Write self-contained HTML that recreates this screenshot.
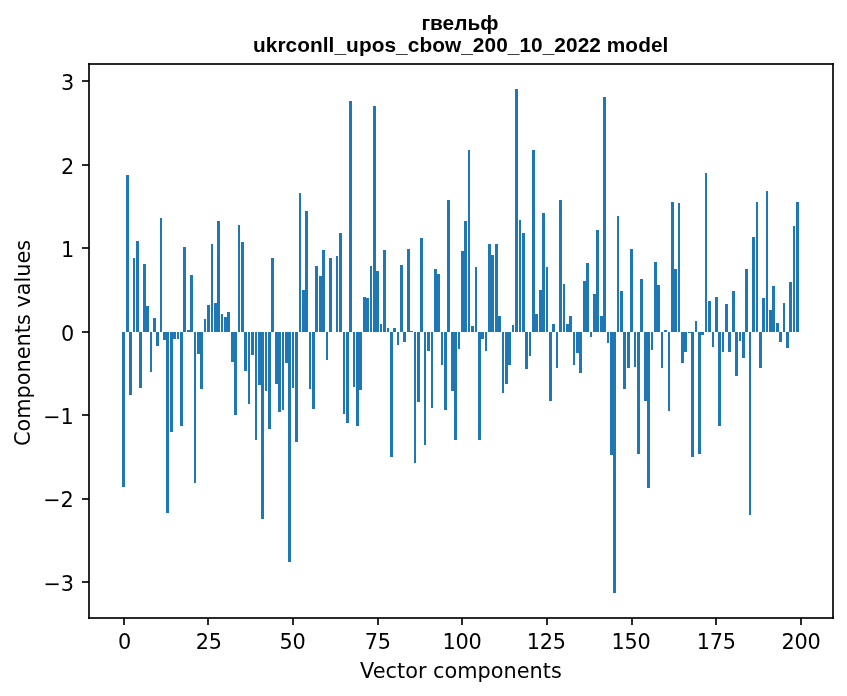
<!DOCTYPE html>
<html lang="uk">
<head>
<meta charset="utf-8">
<title>гвельф — ukrconll_upos_cbow_200_10_2022 model</title>
<style>
html,body{margin:0;padding:0;background:#fff;}
body{width:847px;height:696px;overflow:hidden;}
svg{display:block;}
.tk{font-family:"DejaVu Sans","Liberation Sans",sans-serif;font-size:20.83px;fill:#000;}
.ti{font-family:"Liberation Sans","DejaVu Sans",sans-serif;font-weight:bold;font-size:20.83px;fill:#000;}
.bars rect{fill:#1f77b4;}
.ax rect{fill:#000;fill-opacity:0.8353;}
</style>
</head>
<body>
<svg width="847" height="696" viewBox="0 0 847 696" role="img" aria-label="Bar chart of vector components">
<rect x="0" y="0" width="847" height="696" fill="#fff"/>
<g class="bars" shape-rendering="crispEdges">
<rect x="122" y="332" width="3" height="155"/>
<rect x="126" y="175" width="3" height="157"/>
<rect x="129" y="332" width="3" height="63"/>
<rect x="133" y="258" width="2" height="74"/>
<rect x="136" y="241" width="3" height="91"/>
<rect x="139" y="332" width="3" height="56"/>
<rect x="143" y="264" width="3" height="68"/>
<rect x="146" y="306" width="3" height="26"/>
<rect x="150" y="332" width="2" height="40"/>
<rect x="153" y="318" width="3" height="14"/>
<rect x="156" y="332" width="3" height="14"/>
<rect x="160" y="218" width="2" height="114"/>
<rect x="163" y="332" width="3" height="8"/>
<rect x="166" y="332" width="3" height="181"/>
<rect x="170" y="332" width="3" height="100"/>
<rect x="173" y="332" width="3" height="7"/>
<rect x="177" y="332" width="2" height="7"/>
<rect x="180" y="332" width="3" height="94"/>
<rect x="183" y="247" width="3" height="85"/>
<rect x="187" y="330" width="3" height="2"/>
<rect x="190" y="275" width="3" height="57"/>
<rect x="194" y="332" width="2" height="151"/>
<rect x="197" y="332" width="3" height="22"/>
<rect x="200" y="332" width="3" height="57"/>
<rect x="204" y="319" width="2" height="13"/>
<rect x="207" y="305" width="3" height="27"/>
<rect x="211" y="244" width="2" height="88"/>
<rect x="214" y="303" width="3" height="29"/>
<rect x="217" y="221" width="3" height="111"/>
<rect x="221" y="314" width="2" height="18"/>
<rect x="224" y="317" width="3" height="15"/>
<rect x="227" y="312" width="3" height="20"/>
<rect x="231" y="332" width="3" height="30"/>
<rect x="234" y="332" width="3" height="83"/>
<rect x="238" y="225" width="2" height="107"/>
<rect x="241" y="242" width="3" height="90"/>
<rect x="244" y="332" width="3" height="39"/>
<rect x="248" y="332" width="2" height="72"/>
<rect x="251" y="332" width="3" height="23"/>
<rect x="255" y="332" width="2" height="108"/>
<rect x="258" y="332" width="3" height="53"/>
<rect x="261" y="332" width="3" height="187"/>
<rect x="265" y="332" width="2" height="59"/>
<rect x="268" y="332" width="3" height="97"/>
<rect x="271" y="258" width="3" height="74"/>
<rect x="275" y="332" width="3" height="52"/>
<rect x="278" y="332" width="3" height="80"/>
<rect x="282" y="332" width="2" height="78"/>
<rect x="285" y="332" width="3" height="31"/>
<rect x="288" y="332" width="3" height="230"/>
<rect x="292" y="332" width="2" height="56"/>
<rect x="295" y="332" width="3" height="110"/>
<rect x="299" y="193" width="2" height="139"/>
<rect x="302" y="290" width="3" height="42"/>
<rect x="305" y="211" width="3" height="121"/>
<rect x="309" y="332" width="2" height="57"/>
<rect x="312" y="332" width="3" height="77"/>
<rect x="315" y="266" width="3" height="66"/>
<rect x="319" y="276" width="3" height="56"/>
<rect x="322" y="250" width="3" height="82"/>
<rect x="326" y="332" width="2" height="28"/>
<rect x="329" y="258" width="3" height="74"/>
<rect x="336" y="256" width="2" height="76"/>
<rect x="339" y="233" width="3" height="99"/>
<rect x="343" y="332" width="2" height="82"/>
<rect x="346" y="332" width="3" height="91"/>
<rect x="349" y="101" width="3" height="231"/>
<rect x="353" y="332" width="2" height="55"/>
<rect x="356" y="332" width="3" height="94"/>
<rect x="359" y="332" width="3" height="58"/>
<rect x="363" y="297" width="3" height="35"/>
<rect x="366" y="298" width="3" height="34"/>
<rect x="370" y="266" width="2" height="66"/>
<rect x="373" y="106" width="3" height="226"/>
<rect x="376" y="271" width="3" height="61"/>
<rect x="380" y="324" width="2" height="8"/>
<rect x="383" y="250" width="3" height="82"/>
<rect x="387" y="328" width="2" height="4"/>
<rect x="390" y="332" width="3" height="125"/>
<rect x="393" y="328" width="3" height="4"/>
<rect x="397" y="332" width="2" height="13"/>
<rect x="400" y="265" width="3" height="67"/>
<rect x="403" y="332" width="3" height="10"/>
<rect x="407" y="249" width="3" height="83"/>
<rect x="410" y="331" width="3" height="1"/>
<rect x="414" y="332" width="2" height="131"/>
<rect x="417" y="332" width="3" height="70"/>
<rect x="420" y="238" width="3" height="94"/>
<rect x="424" y="332" width="2" height="113"/>
<rect x="427" y="332" width="3" height="19"/>
<rect x="431" y="332" width="2" height="76"/>
<rect x="434" y="269" width="3" height="63"/>
<rect x="437" y="274" width="3" height="58"/>
<rect x="441" y="332" width="2" height="33"/>
<rect x="444" y="332" width="3" height="78"/>
<rect x="447" y="200" width="3" height="132"/>
<rect x="451" y="332" width="3" height="59"/>
<rect x="454" y="332" width="3" height="108"/>
<rect x="458" y="332" width="2" height="17"/>
<rect x="461" y="251" width="3" height="81"/>
<rect x="464" y="221" width="3" height="111"/>
<rect x="468" y="150" width="2" height="182"/>
<rect x="471" y="326" width="3" height="6"/>
<rect x="475" y="267" width="2" height="65"/>
<rect x="478" y="332" width="3" height="108"/>
<rect x="481" y="332" width="3" height="7"/>
<rect x="485" y="332" width="2" height="19"/>
<rect x="488" y="244" width="3" height="88"/>
<rect x="491" y="255" width="3" height="77"/>
<rect x="495" y="244" width="3" height="88"/>
<rect x="498" y="316" width="3" height="16"/>
<rect x="502" y="332" width="2" height="61"/>
<rect x="505" y="332" width="3" height="52"/>
<rect x="508" y="332" width="3" height="33"/>
<rect x="512" y="325" width="2" height="7"/>
<rect x="515" y="89" width="3" height="243"/>
<rect x="519" y="220" width="2" height="112"/>
<rect x="522" y="233" width="3" height="99"/>
<rect x="525" y="332" width="3" height="37"/>
<rect x="529" y="332" width="2" height="24"/>
<rect x="532" y="150" width="3" height="182"/>
<rect x="535" y="314" width="3" height="18"/>
<rect x="539" y="290" width="3" height="42"/>
<rect x="542" y="213" width="3" height="119"/>
<rect x="546" y="267" width="2" height="65"/>
<rect x="549" y="332" width="3" height="69"/>
<rect x="552" y="324" width="3" height="8"/>
<rect x="556" y="332" width="2" height="36"/>
<rect x="559" y="200" width="3" height="132"/>
<rect x="563" y="284" width="2" height="48"/>
<rect x="566" y="324" width="3" height="8"/>
<rect x="569" y="316" width="3" height="16"/>
<rect x="573" y="332" width="2" height="33"/>
<rect x="576" y="332" width="3" height="21"/>
<rect x="579" y="332" width="3" height="41"/>
<rect x="583" y="281" width="3" height="51"/>
<rect x="586" y="263" width="3" height="69"/>
<rect x="590" y="332" width="2" height="5"/>
<rect x="593" y="294" width="3" height="38"/>
<rect x="596" y="230" width="3" height="102"/>
<rect x="600" y="316" width="3" height="16"/>
<rect x="603" y="97" width="3" height="235"/>
<rect x="607" y="332" width="2" height="11"/>
<rect x="610" y="332" width="3" height="123"/>
<rect x="613" y="332" width="3" height="261"/>
<rect x="617" y="216" width="2" height="116"/>
<rect x="620" y="291" width="3" height="41"/>
<rect x="623" y="332" width="3" height="57"/>
<rect x="627" y="332" width="3" height="36"/>
<rect x="630" y="249" width="3" height="83"/>
<rect x="634" y="332" width="2" height="35"/>
<rect x="637" y="332" width="3" height="122"/>
<rect x="640" y="279" width="3" height="53"/>
<rect x="644" y="332" width="3" height="69"/>
<rect x="647" y="332" width="3" height="156"/>
<rect x="651" y="332" width="2" height="18"/>
<rect x="654" y="262" width="3" height="70"/>
<rect x="657" y="285" width="3" height="47"/>
<rect x="661" y="332" width="2" height="36"/>
<rect x="664" y="330" width="3" height="2"/>
<rect x="668" y="332" width="2" height="79"/>
<rect x="671" y="202" width="3" height="130"/>
<rect x="674" y="269" width="3" height="63"/>
<rect x="678" y="203" width="2" height="129"/>
<rect x="681" y="332" width="3" height="31"/>
<rect x="684" y="332" width="3" height="20"/>
<rect x="688" y="332" width="3" height="1"/>
<rect x="691" y="332" width="3" height="125"/>
<rect x="695" y="321" width="2" height="11"/>
<rect x="698" y="332" width="3" height="122"/>
<rect x="701" y="332" width="3" height="3"/>
<rect x="705" y="173" width="2" height="159"/>
<rect x="708" y="301" width="3" height="31"/>
<rect x="712" y="332" width="2" height="15"/>
<rect x="715" y="297" width="3" height="35"/>
<rect x="718" y="332" width="3" height="94"/>
<rect x="722" y="332" width="2" height="20"/>
<rect x="725" y="304" width="3" height="28"/>
<rect x="728" y="332" width="3" height="20"/>
<rect x="732" y="291" width="3" height="41"/>
<rect x="735" y="332" width="3" height="44"/>
<rect x="739" y="332" width="2" height="9"/>
<rect x="742" y="332" width="3" height="26"/>
<rect x="745" y="269" width="3" height="63"/>
<rect x="749" y="332" width="2" height="183"/>
<rect x="752" y="237" width="3" height="95"/>
<rect x="756" y="202" width="2" height="130"/>
<rect x="759" y="332" width="3" height="36"/>
<rect x="762" y="298" width="3" height="34"/>
<rect x="766" y="191" width="2" height="141"/>
<rect x="769" y="310" width="3" height="22"/>
<rect x="772" y="286" width="3" height="46"/>
<rect x="776" y="323" width="3" height="9"/>
<rect x="779" y="332" width="3" height="10"/>
<rect x="783" y="303" width="2" height="29"/>
<rect x="786" y="332" width="3" height="16"/>
<rect x="789" y="282" width="3" height="50"/>
<rect x="793" y="226" width="2" height="106"/>
<rect x="796" y="202" width="3" height="130"/>
</g>
<g class="ax" shape-rendering="crispEdges">
<rect x="123" y="618" width="2" height="7"/>
<rect x="207" y="618" width="2" height="7"/>
<rect x="292" y="618" width="2" height="7"/>
<rect x="377" y="618" width="2" height="7"/>
<rect x="461" y="618" width="2" height="7"/>
<rect x="546" y="618" width="2" height="7"/>
<rect x="631" y="618" width="2" height="7"/>
<rect x="715" y="618" width="2" height="7"/>
<rect x="800" y="618" width="2" height="7"/>
<rect x="82" y="80" width="7" height="2"/>
<rect x="82" y="164" width="7" height="2"/>
<rect x="82" y="247" width="7" height="2"/>
<rect x="82" y="331" width="7" height="2"/>
<rect x="82" y="414" width="7" height="2"/>
<rect x="82" y="498" width="7" height="2"/>
<rect x="82" y="581" width="7" height="2"/>
<rect x="88" y="63" width="2" height="556"/>
<rect x="832" y="63" width="2" height="556"/>
<rect x="88" y="617" width="746" height="2"/>
<rect x="88" y="63" width="746" height="2"/>
</g>
<g>
<text class="tk" x="124.59" y="648.60" text-anchor="middle" letter-spacing="-0.25px">0</text>
<text class="tk" x="208.72" y="648.60" text-anchor="middle" letter-spacing="-0.25px">25</text>
<text class="tk" x="292.60" y="648.60" text-anchor="middle" letter-spacing="-0.25px">50</text>
<text class="tk" x="377.73" y="648.60" text-anchor="middle" letter-spacing="-0.25px">75</text>
<text class="tk" x="462.11" y="648.60" text-anchor="middle" letter-spacing="-0.25px">100</text>
<text class="tk" x="546.24" y="648.60" text-anchor="middle" letter-spacing="-0.25px">125</text>
<text class="tk" x="631.12" y="648.60" text-anchor="middle" letter-spacing="-0.25px">150</text>
<text class="tk" x="716.25" y="648.60" text-anchor="middle" letter-spacing="-0.25px">175</text>
<text class="tk" x="801.13" y="648.60" text-anchor="middle" letter-spacing="-0.25px">200</text>
<text class="tk" x="74.25" y="89.60" text-anchor="end">3</text>
<text class="tk" x="74.25" y="173.60" text-anchor="end">2</text>
<text class="tk" x="74.25" y="256.60" text-anchor="end">1</text>
<text class="tk" x="74.25" y="340.60" text-anchor="end">0</text>
<text class="tk" x="73.25" y="423.60" text-anchor="end" letter-spacing="-0.4px">−1</text>
<text class="tk" x="73.25" y="506.60" text-anchor="end" letter-spacing="-0.4px">−2</text>
<text class="tk" x="73.50" y="590.60" text-anchor="end" letter-spacing="-0.4px">−3</text>
<text class="tk" x="460.95" y="677.50" text-anchor="middle">Vector components</text>
<text class="tk" transform="translate(29.70,342.90) rotate(-90)" text-anchor="middle">Components values</text>
<text class="ti" x="459.95" y="29.50" text-anchor="middle">гвельф</text>
<text class="ti" x="460.70" y="51.60" text-anchor="middle" letter-spacing="0.06px">ukrconll_upos_cbow_200_10_2022 model</text>
</g>
</svg>
</body>
</html>
